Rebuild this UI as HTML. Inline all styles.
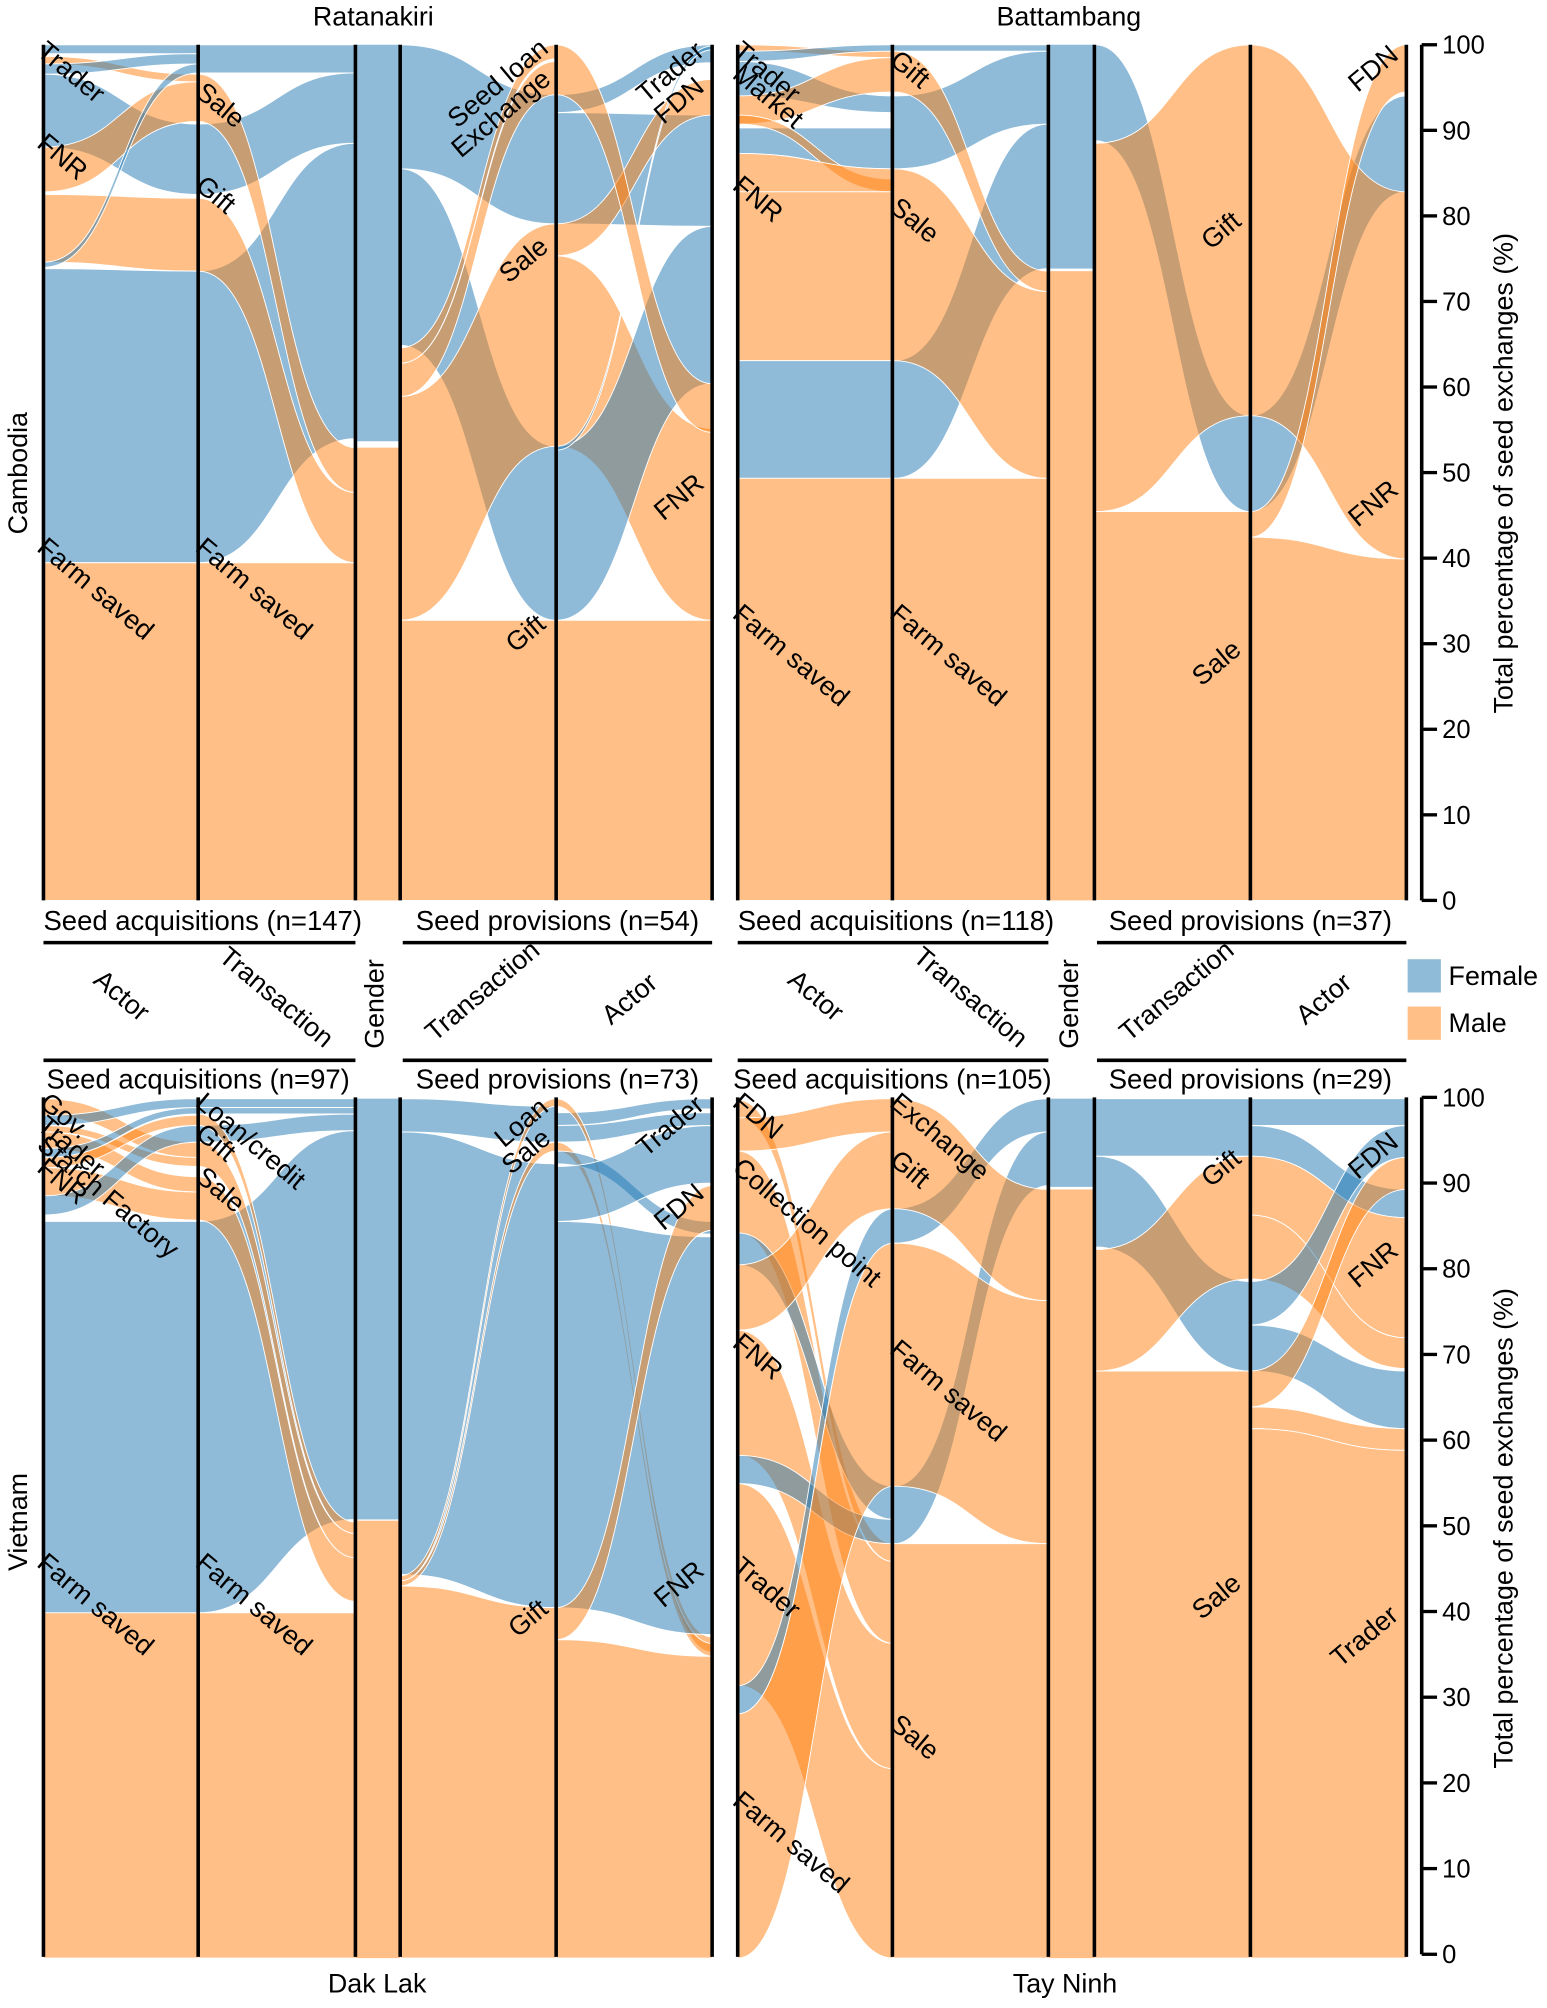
<!DOCTYPE html>
<html><head><meta charset="utf-8">
<style>
html,body{margin:0;padding:0;background:#fff;}
svg{display:block;}
text{font-family:"Liberation Sans",Arial,sans-serif;fill:#000;}
</style></head>
<body>
<svg id="s" width="1547" height="2008" viewBox="0 0 1210 1570" preserveAspectRatio="none" xmlns="http://www.w3.org/2000/svg">
<g id="flows"></g>
<g id="axes" stroke="#000" stroke-width="2.8"></g>
<g font-size="21">
<text x="292" y="20" text-anchor="middle">Ratanakiri</text>
<text x="836" y="20" text-anchor="middle">Battambang</text>
<text x="295" y="1558" text-anchor="middle">Dak Lak</text>
<text x="833" y="1558" text-anchor="middle">Tay Ninh</text>
<text transform="translate(21,370) rotate(-90)" text-anchor="middle">Cambodia</text>
<text transform="translate(21,1190) rotate(-90)" text-anchor="middle">Vietnam</text>
</g>
<g font-size="21.5">
<text x="34" y="727">Seed acquisitions (n=147)</text>
<text x="436" y="727" text-anchor="middle">Seed provisions (n=54)</text>
<text x="577" y="727">Seed acquisitions (n=118)</text>
<text x="978" y="727" text-anchor="middle">Seed provisions (n=37)</text>
<text x="155" y="851" text-anchor="middle">Seed acquisitions (n=97)</text>
<text x="436" y="851" text-anchor="middle">Seed provisions (n=73)</text>
<text x="698" y="851" text-anchor="middle">Seed acquisitions (n=105)</text>
<text x="978" y="851" text-anchor="middle">Seed provisions (n=29)</text>
</g>
<g font-size="21">
<text transform="translate(72,768) rotate(40)">Actor</text>
<text transform="translate(170,750) rotate(40)">Transaction</text>
<text transform="translate(300,785) rotate(-90)" text-anchor="middle">Gender</text>
<text transform="translate(340,815) rotate(-40)">Transaction</text>
<text transform="translate(478,802) rotate(-40)">Actor</text>
<text transform="translate(615,768) rotate(40)">Actor</text>
<text transform="translate(713,750) rotate(40)">Transaction</text>
<text transform="translate(843,785) rotate(-90)" text-anchor="middle">Gender</text>
<text transform="translate(883,815) rotate(-40)">Transaction</text>
<text transform="translate(1021,802) rotate(-40)">Actor</text>
<rect x="1101" y="750" width="26" height="26" fill="#8fbbd9"/>
<rect x="1101" y="787" width="26" height="26" fill="#ffbf86"/>
<text x="1133" y="770">Female</text>
<text x="1133" y="807">Male</text>
<text transform="translate(1183,370) rotate(-90)" text-anchor="middle">Total percentage of seed exchanges (%)</text>
<text transform="translate(1183,1195) rotate(-90)" text-anchor="middle">Total percentage of seed exchanges (%)</text>
</g>
<g id="ticks" font-size="20"></g>
<g font-size="21" id="lbl">
<g>
<text transform="translate(38,30) rotate(40)" dy="0.75em">Trader</text>
<text transform="translate(38,102) rotate(40)" dy="0.75em">FNR</text>
<text transform="translate(38,418) rotate(40)" dy="0.75em">Farm saved</text>
<text transform="translate(162,62) rotate(40)" dy="0.75em">Sale</text>
<text transform="translate(162,135) rotate(40)" dy="0.75em">Gift</text>
<text transform="translate(162,418) rotate(40)" dy="0.75em">Farm saved</text>
<text transform="translate(430,40) rotate(-40)" text-anchor="end">Seed loan</text>
<text transform="translate(432,64) rotate(-40)" text-anchor="end">Exchange</text>
<text transform="translate(430,195) rotate(-40)" text-anchor="end">Sale</text>
<text transform="translate(428,490) rotate(-40)" text-anchor="end">Gift</text>
<text transform="translate(552,42) rotate(-40)" text-anchor="end">Trader</text>
<text transform="translate(552,70) rotate(-40)" text-anchor="end">FDN</text>
<text transform="translate(552,380) rotate(-40)" text-anchor="end">FNR</text>
</g>
<g>
<text transform="translate(582,30) rotate(40)" dy="0.75em">Trader</text>
<text transform="translate(582,48) rotate(40)" dy="0.75em">Market</text>
<text transform="translate(582,135) rotate(40)" dy="0.75em">FNR</text>
<text transform="translate(582,470) rotate(40)" dy="0.75em">Farm saved</text>
<text transform="translate(705,37) rotate(40)" dy="0.75em">Gift</text>
<text transform="translate(705,152) rotate(40)" dy="0.75em">Sale</text>
<text transform="translate(705,470) rotate(40)" dy="0.75em">Farm saved</text>
<text transform="translate(972,175) rotate(-40)" text-anchor="end">Gift</text>
<text transform="translate(972,510) rotate(-40)" text-anchor="end">Sale</text>
<text transform="translate(1095,45) rotate(-40)" text-anchor="end">FDN</text>
<text transform="translate(1095,385) rotate(-40)" text-anchor="end">FNR</text>
</g>
<g>
<text transform="translate(40,852) rotate(40)" dy="0.75em">Gov.</text>
<text transform="translate(38,870) rotate(40)" dy="0.75em">Trader</text>
<text transform="translate(38,885) rotate(40)" dy="0.75em">Starch Factory</text>
<text transform="translate(38,903) rotate(40)" dy="0.75em">FNR</text>
<text transform="translate(38,1212) rotate(40)" dy="0.75em">Farm saved</text>
<text transform="translate(162,852) rotate(40)" dy="0.75em">Loan/credit</text>
<text transform="translate(162,876) rotate(40)" dy="0.75em">Gift</text>
<text transform="translate(162,910) rotate(40)" dy="0.75em">Sale</text>
<text transform="translate(162,1212) rotate(40)" dy="0.75em">Farm saved</text>
<text transform="translate(430,868) rotate(-40)" text-anchor="end">Loan</text>
<text transform="translate(432,892) rotate(-40)" text-anchor="end">Sale</text>
<text transform="translate(430,1260) rotate(-40)" text-anchor="end">Gift</text>
<text transform="translate(552,866) rotate(-40)" text-anchor="end">Trader</text>
<text transform="translate(552,935) rotate(-40)" text-anchor="end">FDN</text>
<text transform="translate(552,1230) rotate(-40)" text-anchor="end">FNR</text>
</g>
<g>
<text transform="translate(582,852) rotate(40)" dy="0.75em">FDN</text>
<text transform="translate(582,903) rotate(40)" dy="0.75em">Collection point</text>
<text transform="translate(582,1040) rotate(40)" dy="0.75em">FNR</text>
<text transform="translate(582,1215) rotate(40)" dy="0.75em">Trader</text>
<text transform="translate(582,1398) rotate(40)" dy="0.75em">Farm saved</text>
<text transform="translate(705,852) rotate(40)" dy="0.75em">Exchange</text>
<text transform="translate(705,897) rotate(40)" dy="0.75em">Gift</text>
<text transform="translate(705,1045) rotate(40)" dy="0.75em">Farm saved</text>
<text transform="translate(705,1338) rotate(40)" dy="0.75em">Sale</text>
<text transform="translate(972,908) rotate(-40)" text-anchor="end">Gift</text>
<text transform="translate(972,1240) rotate(-40)" text-anchor="end">Sale</text>
<text transform="translate(1095,895) rotate(-40)" text-anchor="end">FDN</text>
<text transform="translate(1095,980) rotate(-40)" text-anchor="end">FNR</text>
<text transform="translate(1095,1265) rotate(-40)" text-anchor="end">Trader</text>
</g>
</g>
</svg>
<script>
var NS="http://www.w3.org/2000/svg";
var B="rgba(31,119,180,0.5)",O="rgba(255,127,14,0.5)";
var F=document.getElementById("flows"),A=document.getElementById("axes"),T=document.getElementById("ticks");
function el(tag,attrs,parent){var e=document.createElementNS(NS,tag);for(var k in attrs)e.setAttribute(k,attrs[k]);parent.appendChild(e);return e;}
function band(x1,x2,a1,a2,b1,b2,c){var m=(x1+x2)/2;
 var d="M"+x1+","+a1+" C"+m+","+a1+" "+m+","+b1+" "+x2+","+b1+" L"+x2+","+b2+" C"+m+","+b2+" "+m+","+a2+" "+x1+","+a2+" Z";
 el("path",{d:d,fill:c,stroke:"#fff","stroke-width":"0.7"},F);}
function fl(x1,x2,list){list.forEach(function(f){band(x1,x2,f[0],f[1],f[2],f[3],f[4]);});}
function rect(x1,x2,y1,y2,c){el("rect",{x:x1,y:y1,width:x2-x1,height:y2-y1,fill:c},F);}
function vline(x,y1,y2){el("line",{x1:x,x2:x,y1:y1,y2:y2},A);}
function hline(x1,x2,y){el("line",{x1:x1,x2:x2,y1:y,y2:y},A);}

fl(34,155,[[35,42,35,42,B],[44,50,58,64,O],[50,58,42,50,B],[58,115,97,152,B],[115,150,64,95,O],[152,205,155,212,O],[205,209,50,57,B],[210,440,212,440,B],[440,704,440,704,O]]);
fl(155,278,[[35,57,35,57,B],[97,152,57,112,B],[212,440,112,343,B],[58,95,350,385,O],[155,212,385,440,O],[440,704,440,704,O]]);
rect(278,313,35,345,B);rect(278,313,350,704,O);
fl(313,435,[[35,132,74,175,B],[132,270,349,485,B],[272,284,35,46,O],[284,310,48,74,O],[310,485,175,349,O],[485,704,485,704,O]]);
fl(435,557,[[74,88,35,49,B],[88,175,90,177,B],[175,200,62,90,O],[200,349,335,485,O],[349,485,177,300,B],[349,352,36,39,B],[35,74,300,338,O],[485,704,485,704,O]]);

fl(577,699,[[35,40,40,45,O],[40,48,35,40,B],[48,75,75,88,B],[75,97,45,72,O],[100,120,100,132,B],[90,97,140,150,O],[120,150,132,150,O],[150,282,150,282,O],[282,374,282,374,B],[374,704,374,704,O]]);
fl(699,820,[[35,40,35,40,B],[75,132,40,97,B],[282,374,97,210,B],[40,72,212,228,O],[132,282,228,374,O],[374,704,374,704,O]]);
rect(820,857,35,210,B);rect(820,857,212,704,O);
fl(857,978,[[35,110,325,400,B],[112,400,35,325,O],[400,704,400,704,O]]);
fl(978,1100,[[325,400,75,150,B],[35,325,150,437,O],[400,420,35,72,O],[420,704,437,704,O]]);

var D=[[859,872,893,905,O],[872,880,859,866,B],[880,885,905,912,O],[885,898,920,932,O],[898,905,866,871,B],[905,913,872,880,O],[913,935,932,954,O],[935,950,880,893,B],[955,1261,955,1261,B],[1261,1531,1261,1531,O]];
fl(34,155,D);
fl(155,278,[[859,866,859,866,B],[866,871,866,871,B],[880,893,871,884,B],[955,1261,884,1188,B],[871,880,1190,1199,O],[893,912,1199,1218,O],[920,954,1218,1252,O],[1261,1531,1261,1531,O]]);
rect(278,313,859,1188,B);rect(278,313,1189,1531,O);
fl(313,435,[[859,885,865,893,B],[885,1231,910,1257,B],[1232,1236,859,865,O],[1236,1240,893,900,O],[1240,1531,1257,1531,O]]);
fl(435,557,[[870,880,859,867,B],[880,893,870,880,B],[859,865,1280,1292,O],[893,900,1285,1295,O],[900,910,955,965,B],[912,955,880,925,B],[955,1257,967,1278,B],[1257,1282,927,962,O],[1282,1531,1295,1531,O]]);

fl(577,699,[[860,874,1207,1221,O],[874,900,859,885,O],[900,964,1221,1285,O],[964,989,1162,1188,B],[989,1040,885,945,O],[1040,1138,1285,1383,O],[1138,1160,1188,1207,B],[1160,1318,1383,1531,O],[1318,1340,945,972,B],[1340,1531,972,1162,O]]);
fl(699,820,[[945,972,859,885,B],[1162,1207,885,927,B],[859,945,930,1017,O],[972,1162,1017,1207,O],[1207,1531,1207,1531,O]]);
rect(820,857,859,928,B);rect(820,857,930,1531,O);
fl(857,978,[[859,904,859,904,B],[904,975,1002,1072,B],[977,1072,904,1000,O],[1072,1531,1072,1531,O]]);
fl(978,1100,[[859,880,859,880,B],[880,904,930,952,B],[904,950,952,1046,O],[950,1000,1046,1070,O],[1002,1036,880,905,B],[1036,1072,1072,1117,B],[1072,1100,905,930,O],[1100,1117,1117,1134,O],[1117,1531,1134,1531,O]]);

[34,155,278,313,435,557,577,698,820,856,978,1100].forEach(function(x){vline(x,35,704);vline(x,858,1530);});
hline(34,278,737);hline(315,557,737);hline(577,820,737);hline(858,1100,737);
hline(34,278,829);hline(315,557,829);hline(577,820,829);hline(858,1100,829);
vline(1112,35,704);vline(1112,858,1528);
function ticks(top,bot){for(var i=0;i<=10;i++){var y=bot-(bot-top)*i/10;
 el("line",{x1:1112,x2:1124,y1:y,y2:y,stroke:"#000","stroke-width":"2.6"},T);
 var t=el("text",{x:1128,y:y+7},T);t.textContent=String(i*10);}}
ticks(35,704);ticks(858,1528);
</script>
</body></html>
